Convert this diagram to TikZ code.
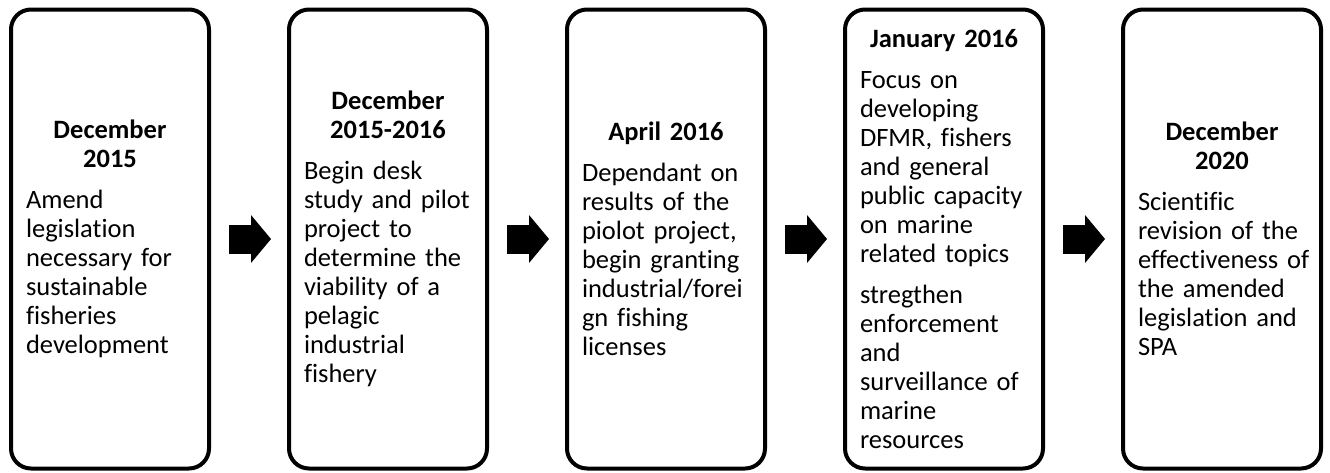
\documentclass[tikz,border=0pt]{standalone}
\usepackage{fontspec}
\setmainfont{Carlito}[Ligatures=NoCommon]
\usetikzlibrary{arrows.meta}
\setlength{\parindent}{0pt}
\hfuzz=30pt
\hyphenpenalty=10000

\tikzset{
  stage/.style={draw,line width=4pt,rounded corners=20pt,
    minimum width=198pt,minimum height=459pt,
    text width=190pt,inner xsep=4pt,inner ysep=0pt,
    execute at begin node={\raggedright\leftskip=11pt\relax},
    font=\fontsize{26.5pt}{29pt}\selectfont},
  flow/.style={line width=29pt,
    -{Triangle[length=20pt,width=48pt,line width=0pt]},
    shorten <=18pt,shorten >=16pt}
}

\begin{document}
\begin{tikzpicture}[x=1pt,y=-1pt]
        \useasboundingbox (0,0) rectangle (1330,472);

        \node (dec15) at (110,239) [stage]{{\centering\bfseries December\\2015\par}\vspace{12pt}Amend\\legislation\\necessary~for\\sustainable\\fisheries\\development};
        \node (dec1516) at (388,239) [stage]{{\centering\bfseries December\\2015-2016\par}\vspace{12pt}Begin~desk\\study~and~pilot\\project~to\\determine~the\\viability~of~a\\pelagic\\industrial\\fishery};
        \node (apr16) at (666,239) [stage]{{\centering\bfseries April~2016\par}\vspace{12pt}Dependant~on\\results~of~the\\piolot~project,\\begin~granting\\industrial/forei\\gn~fishing\\licenses};
        \node (jan16) at (944,239) [stage]{{\centering\bfseries January~2016\par}\vspace{12pt}Focus~on\\developing\\DFMR,~fishers\\and~general\\public~capacity\\on~marine\\related~topics\par\vspace{12pt}stregthen\\enforcement\\and\\surveillance~of\\marine\\resources};
        \node (dec20) at (1222,239) [stage]{{\centering\bfseries December\\2020\par}\vspace{12pt}Scientific\\revision~of~the\\effectiveness~of\\the~amended\\legislation~and\\SPA};

        \draw [flow](dec15) -- (dec1516);
        \draw [flow](dec1516) -- (apr16);
        \draw [flow](apr16) -- (jan16);
        \draw [flow](jan16) -- (dec20);

    \end{tikzpicture}
\end{document}
